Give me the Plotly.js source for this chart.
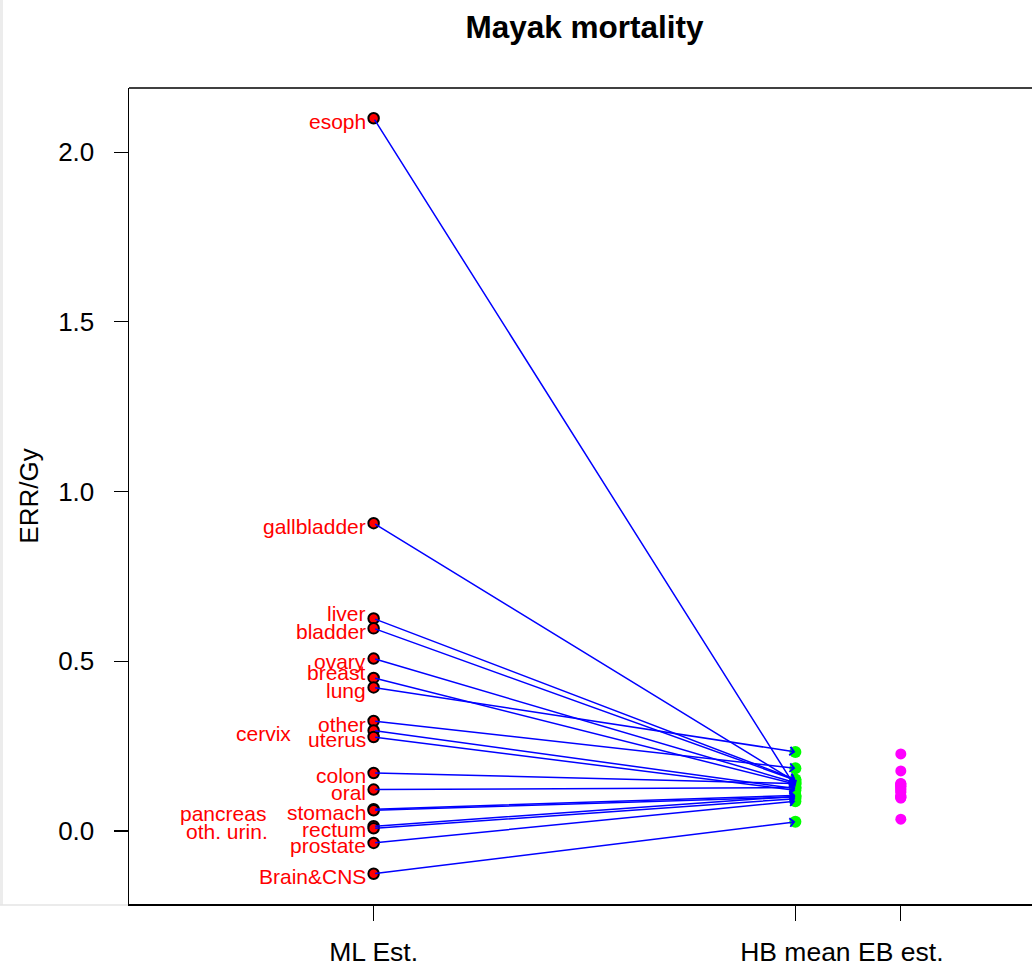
<!DOCTYPE html>
<html>
<head>
<meta charset="utf-8">
<script src="https://cdn.plot.ly/plotly-3.0.1.min.js"></script>
<style>
  html, body { margin: 0; padding: 0; background: #ffffff; overflow: hidden; }
  #chart { width: 1040px; height: 968px; }
</style>
</head>
<body>
<div id="chart"></div>
<script>
// ---- data ----
const causes = ["esoph", "gallbladder", "liver", "bladder", "ovary", "breast", "lung",
  "other", "cervix", "uterus", "colon", "oral", "stomach", "pancreas", "rectum",
  "oth. urin.", "prostate", "Brain&CNS"];
const mlEst = [2.100, 0.907, 0.626, 0.597, 0.508, 0.451, 0.423,
  0.324, 0.296, 0.277, 0.171, 0.122, 0.064, 0.061, 0.014,
  0.008, -0.035, -0.126];
const hbMean = [0.130, 0.145, 0.152, 0.150, 0.142, 0.138, 0.233,
  0.185, 0.125, 0.120, 0.140, 0.128, 0.105, 0.100, 0.102,
  0.095, 0.088, 0.027];
const ebEst = [0.125, 0.140, 0.139, 0.137, 0.133, 0.130, 0.227,
  0.177, 0.118, 0.114, 0.132, 0.122, 0.105, 0.100, 0.102,
  0.098, 0.097, 0.035];
const axisLabels = ["ML Est.", "HB mean", "EB est."];
const axisPos = [1, 2, 2.25];
const yTicks = [0, 0.5, 1, 1.5, 2];
const yTickText = ["0.0", "0.5", "1.0", "1.5", "2.0"];

// ---- label placement styling (pixel offsets) ----
const labelDx = causes.map(c => c === "cervix" ? -81 : c === "pancreas" ? -106 : c === "oth. urin." ? -104 : -6);
const labelDy = causes.map(c => (c === "liver" || c === "breast") ? 5 : -3);

const FONT = "Liberation Sans, Arial, Helvetica, sans-serif";

// R-style 4% axis expansion
const xlim = [0.5, 2.5];
const xr = [xlim[0] - 0.04 * (xlim[1] - xlim[0]), xlim[1] + 0.04 * (xlim[1] - xlim[0])];
const ymin = Math.min(...mlEst), ymax = Math.max(...mlEst);
const yr = [ymin - 0.04 * (ymax - ymin), ymax + 0.04 * (ymax - ymin)];

const traces = [
  {
    x: causes.map(() => axisPos[0]), y: mlEst, type: "scatter", mode: "markers",
    marker: { size: 10.5, color: "#ff0000", line: { color: "#000000", width: 2 } },
    hoverinfo: "skip", showlegend: false
  },
  {
    x: causes.map(() => axisPos[1]), y: hbMean, type: "scatter", mode: "markers",
    marker: { size: 12, color: "#00ff00" },
    hoverinfo: "skip", showlegend: false
  },
  {
    x: causes.map(() => axisPos[2]), y: ebEst, type: "scatter", mode: "markers",
    marker: { size: 11, color: "#ff00ff" },
    hoverinfo: "skip", showlegend: false
  }
];

const annotations = [];
causes.forEach((c, i) => {
  annotations.push({
    x: axisPos[0], y: mlEst[i], xref: "x", yref: "y",
    text: c, showarrow: false, xanchor: "right", yanchor: "middle",
    xshift: labelDx[i], yshift: labelDy[i],
    font: { family: FONT, size: 21, color: "#ff0000" }
  });
});
causes.forEach((c, i) => {
  annotations.push({
    x: axisPos[1], y: hbMean[i], xref: "x", yref: "y",
    ax: axisPos[0], ay: mlEst[i], axref: "x", ayref: "y",
    text: "", showarrow: true, arrowhead: 4, arrowsize: 1.1, arrowwidth: 1.5,
    arrowcolor: "#0000ff", standoff: 0, startstandoff: 0
  });
});

// pixel helpers for the faint window frame at the left edge
const PL = 129, PW = 1040 - 129, PT = 88, PH = 968 - 88 - 64;
const px2paperX = p => (p - PL) / PW;
const px2paperY = p => 1 - (p - PT) / PH;

const layout = {
  width: 1040, height: 968,
  margin: { l: PL, r: 0, t: PT, b: 64 },
  paper_bgcolor: "#ffffff", plot_bgcolor: "#ffffff",
  showlegend: false,
  title: {
    text: "<b>Mayak mortality</b>",
    font: { family: FONT, size: 31.5, color: "#000000" },
    x: 0.5, xref: "paper", xanchor: "center",
    y: 1 - 27 / 968, yref: "container", yanchor: "middle"
  },
  xaxis: {
    range: xr, tickmode: "array", tickvals: axisPos, ticktext: axisLabels,
    showgrid: false, zeroline: false, showline: true, mirror: false,
    linecolor: "#000000", linewidth: 1.5,
    ticks: "outside", ticklen: 15, tickwidth: 1.2, tickcolor: "#000000",
    ticklabelstandoff: 9,
    tickfont: { family: FONT, size: 26.5, color: "#000000" }
  },
  yaxis: {
    range: yr, tickmode: "array", tickvals: yTicks, ticktext: yTickText,
    showgrid: false, zeroline: false, showline: true, mirror: false,
    linecolor: "#000000", linewidth: 1.5,
    ticks: "outside", ticklen: 14, tickwidth: 1.2, tickcolor: "#000000",
    ticklabelstandoff: 14,
    tickfont: { family: FONT, size: 26, color: "#000000" },
    title: { text: "ERR/Gy", standoff: 12, font: { family: FONT, size: 26, color: "#000000" } }
  },
  shapes: [
    { type: "line", xref: "paper", yref: "paper", x0: 0, x1: 1.2, y0: 1, y1: 1,
      line: { color: "#000000", width: 1.5 } },
    { type: "rect", xref: "paper", yref: "paper", layer: "below",
      x0: px2paperX(0), x1: px2paperX(3), y0: px2paperY(905), y1: px2paperY(0),
      fillcolor: "#ececec", line: { width: 0 } },
    { type: "line", xref: "paper", yref: "paper", layer: "below",
      x0: px2paperX(0), x1: px2paperX(128), y0: px2paperY(905), y1: px2paperY(905),
      line: { color: "#e4e4e4", width: 1.5 } }
  ],
  annotations: annotations
};

Plotly.newPlot("chart", traces, layout, { displayModeBar: false, staticPlot: true });
</script>
</body>
</html>
